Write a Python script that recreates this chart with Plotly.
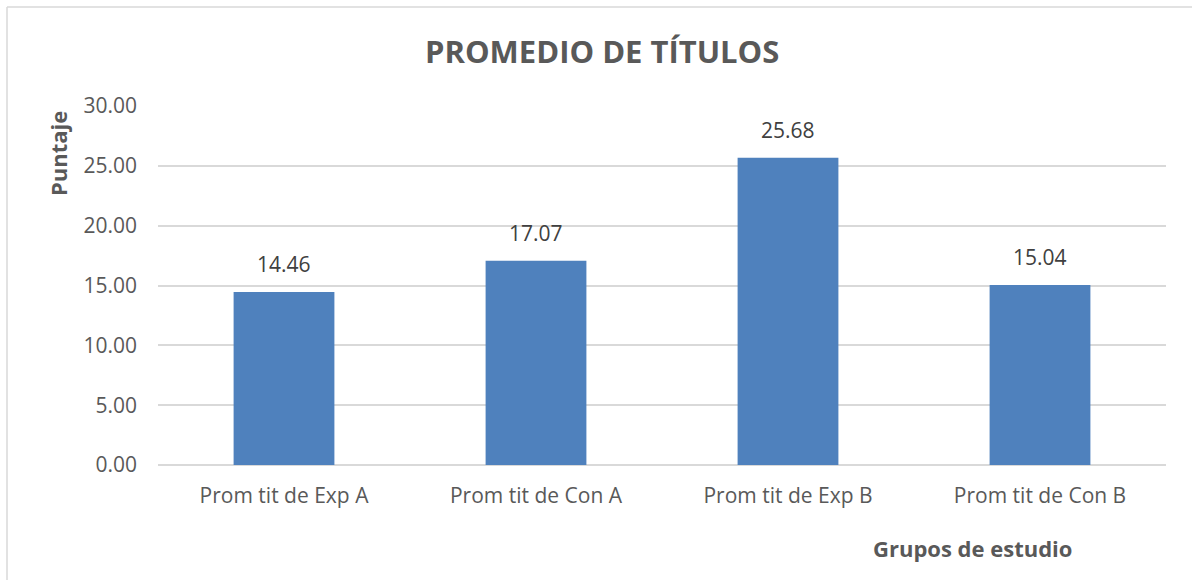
import plotly.graph_objects as go

# Average scores per study group
grupos = ["Prom tit de Exp A", "Prom tit de Con A", "Prom tit de Exp B", "Prom tit de Con B"]
puntajes = [14.46, 17.07, 25.68, 15.04]
y_ticks = [0, 5, 10, 15, 20, 25, 30]

W, H = 1192, 580
L, R, T, B = 158, 26, 106, 115
pw, ph = W - L - R, H - T - B

TEXT = "#595959"
FONT = "Open Sans"


def px_x(p):
    return (p - L) / pw


def px_y(p):
    return 1 - (p - T) / ph


fig = go.Figure(
    go.Bar(
        x=grupos,
        y=puntajes,
        marker=dict(color="#4F81BD", line=dict(width=0)),
        width=0.4,
        hoverinfo="x+y",
    )
)

# value labels above each bar
for g, v in zip(grupos, puntajes):
    fig.add_annotation(
        x=g, y=v, xref="x", yref="y",
        text=f"{v:.2f}", showarrow=False,
        yanchor="bottom", yshift=12,
        font=dict(family=FONT, size=21, color="#404040"),
    )

# chart title
fig.add_annotation(
    x=px_x(602), y=px_y(51), xref="paper", yref="paper",
    text="<b>PROMEDIO DE TÍTULOS</b>", showarrow=False,
    xanchor="center", yanchor="middle",
    font=dict(family=FONT, size=31, color=TEXT),
)

# axis titles
fig.add_annotation(
    x=px_x(58), y=px_y(154), xref="paper", yref="paper",
    text="<b>Puntaje</b>", showarrow=False, textangle=-90,
    xanchor="center", yanchor="middle",
    font=dict(family=FONT, size=22, color=TEXT),
)
fig.add_annotation(
    x=px_x(972), y=px_y(548), xref="paper", yref="paper",
    text="<b>Grupos de estudio</b>", showarrow=False,
    xanchor="center", yanchor="middle",
    font=dict(family=FONT, size=22, color=TEXT),
)

# outer chart frame (left and top edges)
border = dict(color="#D9D9D9", width=1.5)
fig.add_shape(type="line", xref="paper", yref="paper",
              x0=px_x(7), x1=px_x(7), y0=px_y(7), y1=px_y(600), line=border)
fig.add_shape(type="line", xref="paper", yref="paper",
              x0=px_x(7), x1=px_x(1200), y0=px_y(7), y1=px_y(7), line=border)

fig.update_layout(
    width=W, height=H,
    margin=dict(l=L, r=R, t=T, b=B, pad=0),
    paper_bgcolor="white", plot_bgcolor="white",
    showlegend=False,
    font=dict(family=FONT, color=TEXT),
    bargap=0.6,
)
fig.update_xaxes(
    showgrid=False, showline=False, zeroline=False,
    ticks="", tickfont=dict(family=FONT, size=21, color=TEXT),
    ticklabelstandoff=16,
)
fig.update_yaxes(
    range=[0, 30], tickvals=y_ticks,
    ticktext=[f"{v:.2f}" for v in y_ticks],
    showgrid=True, gridcolor="#D9D9D9", gridwidth=1.5,
    zeroline=True, zerolinecolor="#D9D9D9", zerolinewidth=1.5,
    showline=False, ticks="",
    tickfont=dict(family=FONT, size=21, color=TEXT),
    ticklabelstandoff=20,
)

fig.write_html("out.html")
